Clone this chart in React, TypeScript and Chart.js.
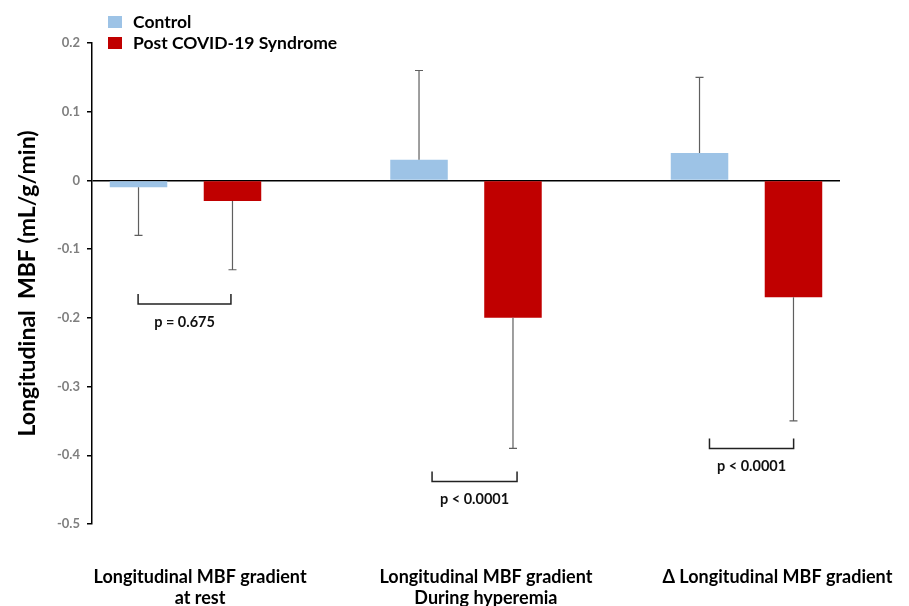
import { useEffect, useRef } from 'react';
import { Chart, registerables } from 'chart.js';

Chart.register(...registerables);

// ---- data ----
const categoryLines: string[][] = [
  ['Longitudinal MBF gradient', 'at rest'],
  ['Longitudinal MBF gradient', 'During hyperemia'],
  ['\u0394 Longitudinal MBF gradient'],
];
const categoryIndex = [0, 1, 2];
const seriesNames = ['Control', 'Post COVID-19 Syndrome'];
const controlValues = [-0.01, 0.03, 0.04];
const controlErrorEnds = [-0.08, 0.16, 0.15];
const postValues = [-0.03, -0.2, -0.17];
const postErrorEnds = [-0.13, -0.39, -0.35];
const yTickValues = [0.2, 0.1, 0, -0.1, -0.2, -0.3, -0.4, -0.5];
const yTickLabels = ['0.2', '0.1', '0', '-0.1', '-0.2', '-0.3', '-0.4', '-0.5'];
const yAxisTitle = 'Longitudinal  MBF (mL/g/min)';
const pLabels = ['p = 0.675', 'p < 0.0001', 'p < 0.0001'];
const bracketFrom = [-0.169, 0.879, 1.868];
const bracketTo = [0.162, 1.182, 2.168];
const bracketLevels = [-0.18, -0.438, -0.39];
const categoryLabelPos = [0.052, 1.071, 2.11];

const CONTROL_COLOR = '#9DC3E6';
const POST_COLOR = '#C00000';
const FONT = 'Lato, "Liberation Sans", sans-serif';

const annotations = {
  id: 'annotations',
  afterDatasetsDraw(chart: any) {
    const ctx = chart.ctx as CanvasRenderingContext2D;
    const x = chart.scales.x;
    const y = chart.scales.y;
    const area = chart.chartArea;
    const errEnds = [controlErrorEnds, postErrorEnds];
    ctx.save();
    // error bars
    ctx.strokeStyle = '#5f5f5f';
    ctx.lineWidth = 1.2;
    chart.data.datasets.forEach((_ds: any, di: number) => {
      const meta = chart.getDatasetMeta(di);
      meta.data.forEach((el: any, i: number) => {
        const yEnd = y.getPixelForValue(errEnds[di][i]);
        ctx.beginPath();
        ctx.moveTo(el.x, el.y);
        ctx.lineTo(el.x, yEnd);
        ctx.moveTo(el.x - 4, yEnd);
        ctx.lineTo(el.x + 4, yEnd);
        ctx.stroke();
      });
    });
    // brackets + p values
    ctx.strokeStyle = '#222';
    ctx.lineWidth = 1.5;
    ctx.fillStyle = '#111';
    ctx.font = `bold 14.5px ${FONT}`;
    ctx.textAlign = 'center';
    ctx.textBaseline = 'middle';
    pLabels.forEach((label, i) => {
      const x0 = x.getPixelForValue(bracketFrom[i]);
      const x1 = x.getPixelForValue(bracketTo[i]);
      const yl = y.getPixelForValue(bracketLevels[i]);
      ctx.beginPath();
      ctx.moveTo(x0, yl - 10);
      ctx.lineTo(x0, yl);
      ctx.lineTo(x1, yl);
      ctx.lineTo(x1, yl - 10);
      ctx.stroke();
      ctx.fillText(label, (x0 + x1) / 2, yl + 18);
    });
    // category labels
    ctx.fillStyle = '#000';
    ctx.font = `bold 18px ${FONT}`;
    categoryLines.forEach((lines, i) => {
      const cx = x.getPixelForValue(categoryLabelPos[i]);
      lines.forEach((t, li) => {
        ctx.fillText(t, cx, area.bottom + 53 + li * 21);
      });
    });
    // legend
    const colors = [CONTROL_COLOR, POST_COLOR];
    ctx.font = `bold 17.5px ${FONT}`;
    ctx.textAlign = 'left';
    seriesNames.forEach((name, i) => {
      const cy = 22 + i * 21;
      ctx.fillStyle = colors[i];
      ctx.fillRect(108, cy - 6, 14, 12);
      ctx.fillStyle = '#000';
      ctx.fillText(name, 133, cy);
    });
    ctx.restore();
  },
};

export default function App() {
  const ref = useRef<HTMLCanvasElement | null>(null);
  useEffect(() => {
    if (!ref.current) return;
    const chart = new Chart(ref.current, {
      type: 'bar',
      data: {
        datasets: [
          {
            label: seriesNames[0],
            data: categoryIndex.map((c, i) => ({ x: c, y: controlValues[i] })),
            backgroundColor: CONTROL_COLOR,
            categoryPercentage: 0.67,
            barPercentage: 0.612,
          },
          {
            label: seriesNames[1],
            data: categoryIndex.map((c, i) => ({ x: c, y: postValues[i] })),
            backgroundColor: POST_COLOR,
            categoryPercentage: 0.67,
            barPercentage: 0.612,
          },
        ],
      },
      options: {
        responsive: false,
        animation: false,
        layout: { padding: { left: 0, top: 43, right: 69, bottom: 82 } },
        plugins: { legend: { display: false }, tooltip: { enabled: false } },
        scales: {
          x: {
            type: 'linear',
            display: false,
            bounds: 'data',
            offset: false,
            min: -1 / 3,
            max: 2 + 1 / 3,
            afterBuildTicks: (scale: any) => {
              scale.ticks = categoryIndex.map((v) => ({ value: v }));
            },
          },
          y: {
            min: -0.5,
            max: 0.2,
            afterBuildTicks: (scale: any) => {
              scale.ticks = yTickValues.map((v) => ({ value: v }));
            },
            afterFit: (scale: any) => {
              scale.width = 92;
            },
            ticks: {
              color: '#7f7f7f',
              font: { family: FONT, size: 13, weight: 'bold' },
              padding: 7,
              callback: (_v: any, i: number) => yTickLabels[i],
            },
            grid: {
              color: (c: any) => (c.tick && c.tick.value === 0 ? '#000' : 'rgba(0,0,0,0)'),
              tickColor: '#000',
              tickLength: 5,
              lineWidth: 1.5,
            },
            border: { display: true, color: '#000', width: 1.5 },
            title: {
              display: true,
              text: yAxisTitle,
              color: '#000',
              font: { family: FONT, size: 23, weight: 'bold' },
              padding: { top: 14, bottom: 0 },
            },
          },
        },
      },
      plugins: [annotations],
    } as any);
    return () => chart.destroy();
  }, []);
  return (
    <div style={{ position: 'fixed', left: 0, top: 0, width: 909, height: 606, background: '#fff' }}>
      <canvas ref={ref} width={909} height={606} style={{ display: 'block' }} />
    </div>
  );
}
